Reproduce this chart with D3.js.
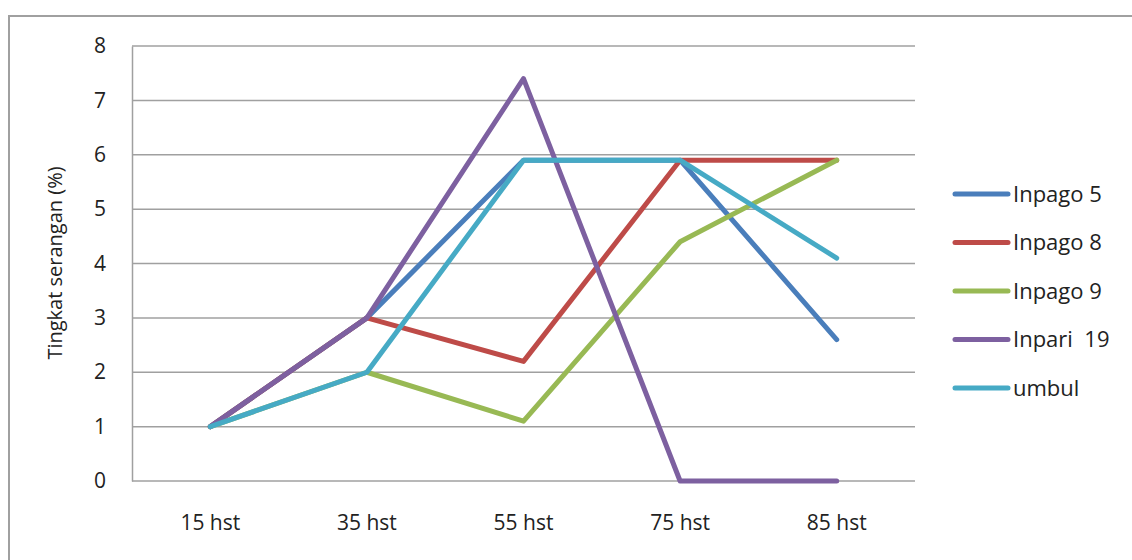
<!DOCTYPE html>
<html>
<head>
<meta charset="utf-8">
<script src="https://cdn.jsdelivr.net/npm/d3@7"></script>
<style>
  html, body { margin: 0; padding: 0; background: #fff; }
  svg { display: block; font-family: "Open Sans", sans-serif; }
</style>
</head>
<body>
<svg id="chart" width="1132" height="560"></svg>
<script>
// Observation times (days after planting)
const categories = ["15 hst", "35 hst", "55 hst", "75 hst", "85 hst"];

// Attack level (%) per variety
const inpago5  = [1, 3, 5.9, 5.9, 2.6];
const inpago8  = [1, 3, 2.2, 5.9, 5.9];
const inpago9  = [1, 2, 1.1, 4.4, 5.9];
const inpari19 = [1, 3, 7.4, 0, 0];
const umbul    = [1, 2, 5.9, 5.9, 4.1];

const seriesNames = ["Inpago 5", "Inpago 8", "Inpago 9", "Inpari  19", "umbul"];
const seriesValues = [inpago5, inpago8, inpago9, inpari19, umbul];
const seriesColors = ["#4A7EBB", "#BE4B48", "#98B954", "#7D60A0", "#46AAC5"];

const yTicks = [0, 1, 2, 3, 4, 5, 6, 7, 8];

const svg = d3.select("#chart");

// Outer chart frame
svg.append("path")
  .attr("d", "M9,600 L9,16 L1140,16")
  .attr("fill", "none")
  .attr("stroke", "#A0A0A0")
  .attr("stroke-width", 2);

const plot = { left: 132, right: 915, top: 46, bottom: 481 };

const x = d3.scaleBand()
  .domain(categories)
  .range([plot.left, plot.right]);

const y = d3.scaleLinear()
  .domain([0, 8])
  .range([plot.bottom, plot.top]);

// Horizontal gridlines
svg.append("g")
  .selectAll("line")
  .data(yTicks)
  .join("line")
  .attr("x1", plot.left)
  .attr("x2", plot.right)
  .attr("y1", d => y(d))
  .attr("y2", d => y(d))
  .attr("stroke", "#A0A0A0")
  .attr("stroke-width", 1.5);

// Y axis
const yAxis = svg.append("g")
  .attr("transform", `translate(${plot.left},0)`)
  .call(d3.axisLeft(y).tickValues(yTicks).tickSize(0).tickPadding(26).tickFormat(d3.format("d")));
yAxis.select(".domain").attr("stroke", "#A0A0A0").attr("stroke-width", 1.5);
yAxis.selectAll("text")
  .attr("font-size", 21)
  .attr("fill", "#222")
  .attr("font-family", "'Open Sans', sans-serif");

// X axis
const xAxis = svg.append("g")
  .attr("transform", `translate(0,${plot.bottom})`)
  .call(d3.axisBottom(x).tickSize(0).tickPadding(34));
xAxis.select(".domain").remove();
xAxis.selectAll("text")
  .attr("font-size", 21)
  .attr("fill", "#222")
  .attr("font-family", "'Open Sans', sans-serif");

// Y axis title
svg.append("text")
  .attr("transform", "translate(62,263) rotate(-90)")
  .attr("text-anchor", "middle")
  .attr("font-size", 20)
  .attr("fill", "#222")
  .text("Tingkat serangan (%)");

// Series lines
const line = d3.line()
  .x((d, i) => x(categories[i]) + x.bandwidth() / 2)
  .y(d => y(d));

svg.append("g")
  .selectAll("path")
  .data(seriesValues)
  .join("path")
  .attr("d", d => line(d))
  .attr("fill", "none")
  .attr("stroke", (d, i) => seriesColors[i])
  .attr("stroke-width", 5)
  .attr("stroke-linejoin", "round")
  .attr("stroke-linecap", "round");

// Legend
const legend = svg.append("g")
  .selectAll("g")
  .data(seriesNames)
  .join("g")
  .attr("transform", (d, i) => `translate(955,${194 + i * 48.5})`);

legend.append("line")
  .attr("x1", 0).attr("x2", 53)
  .attr("y1", 0).attr("y2", 0)
  .attr("stroke", (d, i) => seriesColors[i])
  .attr("stroke-width", 5)
  .attr("stroke-linecap", "round");

legend.append("text")
  .attr("x", 58)
  .attr("y", 0)
  .attr("dy", "0.35em")
  .attr("font-size", 22)
  .attr("fill", "#222")
  .style("white-space", "pre")
  .text(d => d);
</script>
</body>
</html>
